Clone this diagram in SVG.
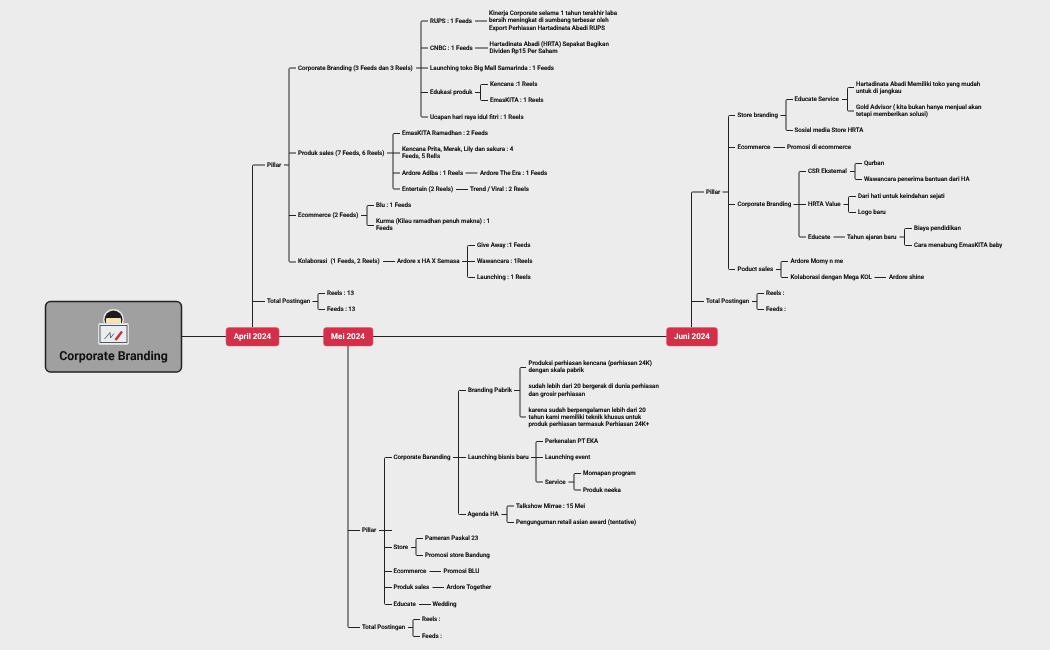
<svg xmlns="http://www.w3.org/2000/svg" width="1050" height="650" viewBox="0 0 1050 650">
<style>
text{font-family:Roboto,"Liberation Sans",sans-serif;font-weight:500;font-size:6.18px;fill:#000;stroke:#000;stroke-width:.12px;dominant-baseline:central;text-rendering:geometricPrecision;filter:blur(.2px);transform:translateY(-.15px)}
.c path{fill:none;stroke:#222;stroke-width:1}
.badge rect{fill:#d32f4b;stroke:#e0566c;stroke-width:.5}
.badge text{fill:#fff;stroke:none;font-weight:700;font-size:8px;text-anchor:middle}
</style>
<rect width="1050" height="650" fill="#ececec"/>
<g id="connectors" class="c">
<path d="M182 336.5H667"/>
<path d="M252.5 327V166Q252.5 165 253.5 165H265M252.5 301.5H265"/>
<path d="M284 165H289M296 68H290Q289 68 289 69V261Q289 262 290 262H296M289 153H296M289 215.5H296"/>
<path d="M416 68H428M428 21H422Q421 21 421 22V116Q421 117 422 117H428M421 48H428M421 92.5H428"/>
<path d="M475 21H487M475 48H488M475 92.5H480.5M488 84.5H481.5Q480.5 84.5 480.5 85.5V99.5Q480.5 100.5 481.5 100.5H488"/>
<path d="M387 153H400M400 133.5H394Q393 133.5 393 134.5V188Q393 189 394 189H400M393 173H400"/>
<path d="M465.5 173H477.5M456 189.5H468"/>
<path d="M361 215.5H367M374 205.5H368Q367 205.5 367 206.5V224.5Q367 225.5 368 225.5H374"/>
<path d="M383 261.5H395M462 261.5H475M475 245.5H468.5Q467.5 245.5 467.5 246.5V276.5Q467.5 277.5 468.5 277.5H475"/>
<path d="M312.5 301.5H318M325 293.5H319Q318 293.5 318 294.5V308.5Q318 309.5 319 309.5H325"/>
<path d="M348 346V626.5Q348 627.5 349 627.5H360M348 530.5H360"/>
<path d="M379 530.5H392M392 457.5H385.5Q384.5 457.5 384.5 458.5V603.5Q384.5 604.5 385.5 604.5H392M384.5 547.5H392M384.5 571.5H392M384.5 587.5H392"/>
<path d="M453 457.5H466M466 390.5H459.5Q458.5 390.5 458.5 391.5V513.5Q458.5 514.5 459.5 514.5H466"/>
<path d="M514 390.5H520M526 367.5H521Q520 367.5 520 368.5V416Q520 417 521 417H526"/>
<path d="M531 457.5H543M543 441.5H537Q536 441.5 536 442.5V481Q536 482 537 482H543"/>
<path d="M568.5 482H574M581 473.5H575Q574 473.5 574 474.5V489Q574 490 575 490H581"/>
<path d="M501.5 514.5H507M514 506H508Q507 506 507 507V521.5Q507 522.5 508 522.5H514"/>
<path d="M411 547.5H416M423 538.5H417Q416 538.5 416 539.5V554.5Q416 555.5 417 555.5H423"/>
<path d="M429.5 571.5H441M432.5 587.5H444M419 604.5H431"/>
<path d="M408 627.5H413M420 619.5H414Q413 619.5 413 620.5V635.5Q413 636.5 414 636.5H420"/>
<path d="M691.5 327V193Q691.5 192 692.5 192H704M691.5 301.5H704"/>
<path d="M722.5 192H728.5M735 115.5H729.5Q728.5 115.5 728.5 116.5V268.5Q728.5 269.5 729.5 269.5H735M728.5 147.5H735M728.5 204.5H735"/>
<path d="M780.5 115.5H786M793 99.5H787Q786 99.5 786 100.5V129.5Q786 130.5 787 130.5H793"/>
<path d="M842 99.5H847.5M854 87.5H848.5Q847.5 87.5 847.5 88.5V110Q847.5 111 848.5 111H854"/>
<path d="M773.5 147.5H785"/>
<path d="M793.5 204.5H806M806 171.5H800Q799 171.5 799 172.5V236Q799 237 800 237H806"/>
<path d="M850 171.5H855M862 163.5H856Q855 163.5 855 164.5V178.5Q855 179.5 856 179.5H862"/>
<path d="M843.5 204.5H848.5M856 196.5H849.5Q848.5 196.5 848.5 197.5V211.5Q848.5 212.5 849.5 212.5H856"/>
<path d="M833.5 237H845M899.5 237H904.5M912 228.5H905.5Q904.5 228.5 904.5 229.5V244.5Q904.5 245.5 905.5 245.5H912"/>
<path d="M776 269.5H781M788 261.5H782Q781 261.5 781 262.5V276.5Q781 277.5 782 277.5H788"/>
<path d="M874.5 277.5H886"/>
<path d="M752 301.5H757M764 293.5H758Q757 293.5 757 294.5V308.5Q757 309.5 758 309.5H764"/>
</g>
<g id="root">
<rect x="45.5" y="301.5" width="136" height="70.5" rx="5" fill="#a0a0a0" stroke="#222" stroke-width="1.5"/>
<circle cx="113.5" cy="319.5" r="10.5" fill="#e8e8e8"/>
<circle cx="113.5" cy="319.5" r="9" fill="#1c1c1c"/>
<rect x="106" y="318" width="15" height="6" rx="1" fill="#f5e3b0"/>
<rect x="98.5" y="323.5" width="30" height="21" rx="1.5" fill="#e9edf0" stroke="#dcdcdc" stroke-width="1"/>
<rect x="100" y="325.5" width="27" height="17" fill="#e9edf0" stroke="#333" stroke-width=".8"/>
<path d="M104.5 339L110 332.5L110.5 338L114 333.5" fill="none" stroke="#666" stroke-width="1"/>
<path d="M115.5 340L122 331.5" fill="none" stroke="#c8323f" stroke-width="2.5"/>
<text x="113.5" y="357" style="font-size:12.4px;font-weight:700;stroke:none;fill:#111;text-anchor:middle">Corporate Branding</text>
</g>
<g id="b-april" class="badge"><rect x="226" y="327.5" width="53" height="18.5" rx="3"/><text x="252.5" y="336.5">April 2024</text></g>
<g id="b-mei" class="badge"><rect x="323.5" y="327.5" width="49.5" height="18.5" rx="3"/><text x="348" y="336.5">Mei 2024</text></g>
<g id="b-juni" class="badge"><rect x="666.5" y="327.5" width="51" height="18.5" rx="3"/><text x="692" y="336.5">Juni 2024</text></g>
<g id="a-pillar"><text x="267" y="165">Pillar</text></g>
<g id="a-cb"><text x="298" y="68">Corporate Branding (3 Feeds dan 3 Reels)</text></g>
<g id="a-rups"><text x="430" y="21">RUPS : 1 Feeds</text></g>
<g id="a-rups-d"><text x="489" y="13.5">Kinerja Corporate selama 1 tahun terakhir laba</text><text x="489" y="20.5">bersih meningkat di sumbang terbesar oleh</text><text x="489" y="28">Export Perhiasan Hartadinata Abadi RUPS</text></g>
<g id="a-cnbc"><text x="430" y="48">CNBC : 1 Feeds</text></g>
<g id="a-cnbc-d"><text x="489.5" y="44.5">Hartadinata Abadi (HRTA) Sepakat Bagikan</text><text x="489.5" y="51.5">Dividen Rp15 Per Saham</text></g>
<g id="a-launch"><text x="430" y="68">Launching toko Big Mall Samarinda : 1 Feeds</text></g>
<g id="a-edu"><text x="430" y="92.5">Edukasi produk</text></g>
<g id="a-kencana"><text x="490" y="84.5">Kencana :1 Reels</text></g>
<g id="a-emas"><text x="490" y="100.5">EmasKITA : 1 Reels</text></g>
<g id="a-ucapan"><text x="430" y="117">Ucapan hari raya idul fitri : 1 Reels</text></g>
<g id="a-ps"><text x="298" y="153">Produk sales (7 Feeds, 6 Reels)</text></g>
<g id="a-ramadhan"><text x="402" y="133.5">EmasKITA Ramadhan : 2 Feeds</text></g>
<g id="a-prita"><text x="402" y="149.5">Kencana Prita, Merak, Lily dan sakura : 4</text><text x="402" y="156.5">Feeds, 5 Rells</text></g>
<g id="a-adiba"><text x="402" y="173">Ardore Adiba : 1 Reels</text></g>
<g id="a-era"><text x="480" y="173">Ardore The Era : 1 Feeds</text></g>
<g id="a-ent"><text x="402" y="189.5">Entertain (2 Reels)</text></g>
<g id="a-trend"><text x="470" y="189.5">Trend / Viral : 2 Reels</text></g>
<g id="a-eco"><text x="298" y="215.5">Ecommerce (2 Feeds)</text></g>
<g id="a-blu"><text x="376" y="205.5">Blu : 1 Feeds</text></g>
<g id="a-kurma"><text x="376" y="221.5">Kurma (Kilau ramadhan penuh makna) : 1</text><text x="376" y="228.5">Feeds</text></g>
<g id="a-kol"><text x="298" y="261.5" xml:space="preserve">Kolaborasi  (1 Feeds, 2 Reels)</text></g>
<g id="a-semasa"><text x="397" y="261.5">Ardore x HA X Semasa</text></g>
<g id="a-give"><text x="477" y="245.5">Give Away :1 Feeds</text></g>
<g id="a-waw"><text x="477" y="261.5">Wawancara : 1Reels</text></g>
<g id="a-l1"><text x="477" y="277.5">Launching : 1 Reels</text></g>
<g id="a-total"><text x="267" y="301.5">Total Postingan</text></g>
<g id="a-reels"><text x="327" y="293.5">Reels : 13</text></g>
<g id="a-feeds"><text x="327" y="309.5">Feeds : 13</text></g>
<g id="m-pillar"><text x="362" y="530.5">Pillar</text></g>
<g id="m-cb"><text x="393.5" y="457.5">Corporate Baranding</text></g>
<g id="m-bp"><text x="468" y="390.5">Branding Pabrik</text></g>
<g id="m-bp1"><text x="528.5" y="363">Produksi perhiasan kencana (perhiasan 24K)</text><text x="528.5" y="370.5">dengan skala pabrik</text></g>
<g id="m-bp2"><text x="528.5" y="386.5">sudah lebih dari 20 bergerak di dunia perhiasan</text><text x="528.5" y="394">dan grosir perhiasan</text></g>
<g id="m-bp3"><text x="528.5" y="410.5">karena sudah berpengalaman lebih dari 20</text><text x="528.5" y="417.5">tahun kami memiliki teknik khusus untuk</text><text x="528.5" y="424.5">produk perhiasan termasuk Perhiasan 24K+</text></g>
<g id="m-lb"><text x="468" y="457.5">Launching bisnis baru</text></g>
<g id="m-eka"><text x="545" y="441.5">Perkenalan PT EKA</text></g>
<g id="m-le"><text x="545" y="457.5">Launching event</text></g>
<g id="m-svc"><text x="545" y="482">Service</text></g>
<g id="m-mom"><text x="583" y="473.5">Momapan program</text></g>
<g id="m-prod"><text x="583" y="490">Produk neeka</text></g>
<g id="m-agenda"><text x="467.5" y="514.5">Agenda HA</text></g>
<g id="m-talk"><text x="516" y="506">Talkshow Mirrae : 15 Mei</text></g>
<g id="m-award"><text x="516" y="522.5">Pengunguman retail asian award (tentative)</text></g>
<g id="m-store"><text x="393.5" y="547.5">Store</text></g>
<g id="m-paskal"><text x="425" y="538.5">Pameran Paskal 23</text></g>
<g id="m-bandung"><text x="425" y="555.5">Promosi store Bandung</text></g>
<g id="m-eco"><text x="393.5" y="571.5">Ecommerce</text></g>
<g id="m-blu"><text x="443.5" y="571.5">Promosi BLU</text></g>
<g id="m-ps"><text x="393.5" y="587.5">Produk sales</text></g>
<g id="m-tog"><text x="446.5" y="587.5">Ardore Together</text></g>
<g id="m-edu"><text x="393.5" y="604.5">Educate</text></g>
<g id="m-wed"><text x="432.5" y="604.5">Wedding</text></g>
<g id="m-total"><text x="362" y="627.5">Total Postingan</text></g>
<g id="m-reels"><text x="422" y="619.5">Reels :</text></g>
<g id="m-feeds"><text x="422" y="636.5">Feeds :</text></g>
<g id="j-pillar"><text x="706" y="192">Pillar</text></g>
<g id="j-sb"><text x="737.5" y="115.5">Store branding</text></g>
<g id="j-es"><text x="794.5" y="99.5">Educate Service</text></g>
<g id="j-h"><text x="856" y="84.5">Hartadinata Abadi Memiliki toko yang mudah</text><text x="856" y="91.5">untuk di jangkau</text></g>
<g id="j-g"><text x="856" y="107.5">Gold Advisor ( kita bukan hanya menjual akan</text><text x="856" y="114.5">tetapi memberikan solusi)</text></g>
<g id="j-sos"><text x="794.5" y="130.5">Sosial media Store HRTA</text></g>
<g id="j-eco"><text x="737.5" y="147.5">Ecommerce</text></g>
<g id="j-pe"><text x="787" y="147.5">Promosi di ecommerce</text></g>
<g id="j-cb"><text x="737.5" y="204.5">Corporate Branding</text></g>
<g id="j-csr"><text x="808" y="171.5">CSR Eksternal</text></g>
<g id="j-q"><text x="864" y="163.5">Qurban</text></g>
<g id="j-w"><text x="864" y="179.5">Wawancara penerima bantuan dari HA</text></g>
<g id="j-hv"><text x="808" y="204.5">HRTA Value</text></g>
<g id="j-d"><text x="858" y="196.5">Dari hati untuk keindahan sejati</text></g>
<g id="j-l"><text x="858" y="212.5">Logo baru</text></g>
<g id="j-e"><text x="808" y="237">Educate</text></g>
<g id="j-t"><text x="847" y="237">Tahun ajaran baru</text></g>
<g id="j-b"><text x="914" y="228.5">Biaya pendidikan</text></g>
<g id="j-c"><text x="914" y="245.5">Cara menabung EmasKITA baby</text></g>
<g id="j-ps"><text x="737.5" y="269.5">Poduct sales</text></g>
<g id="j-am"><text x="790.5" y="261.5">Ardore Momy n me</text></g>
<g id="j-kol"><text x="790.5" y="277.5">Kolaborasi dengan Mega KOL</text></g>
<g id="j-as"><text x="889" y="277.5">Ardore shine</text></g>
<g id="j-total"><text x="706" y="301.5">Total Postingan</text></g>
<g id="j-reels"><text x="766" y="293.5">Reels :</text></g>
<g id="j-feeds"><text x="766" y="309.5">Feeds :</text></g>
</svg>
